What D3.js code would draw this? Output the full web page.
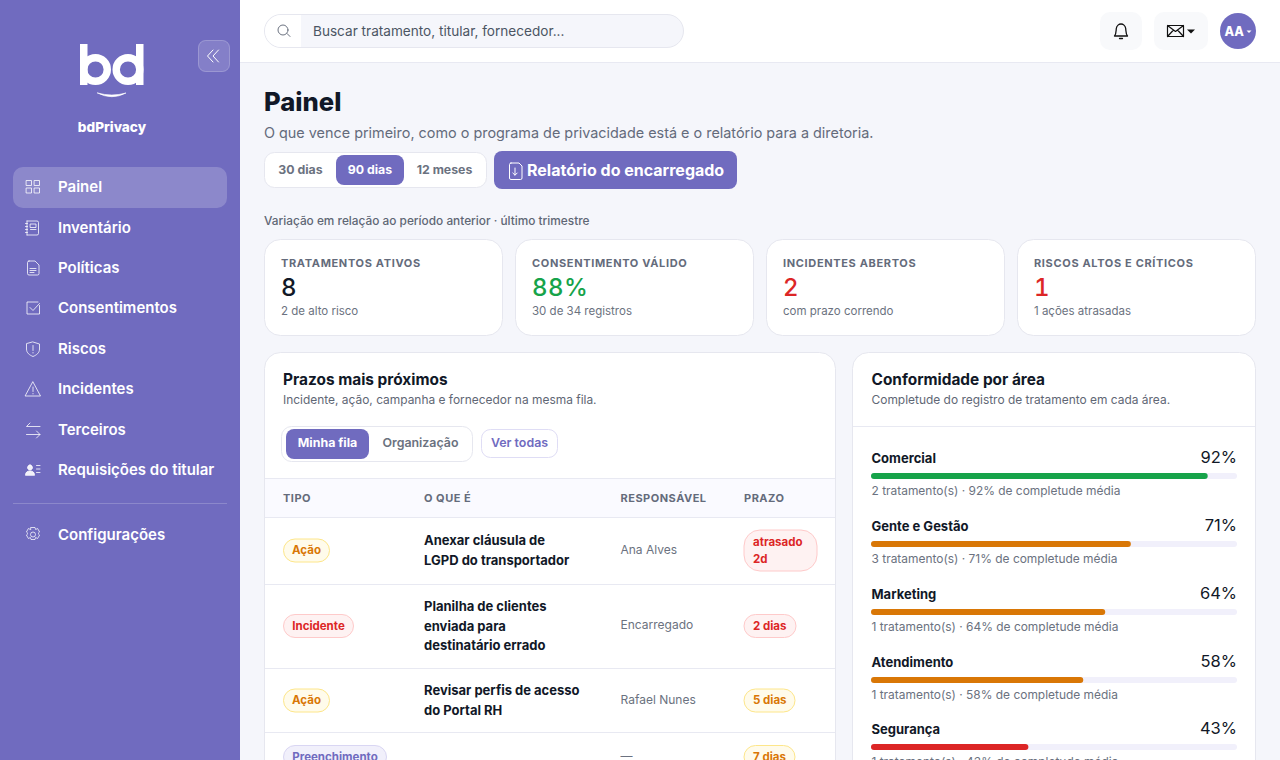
<!DOCTYPE html>
<html lang="pt-BR">
<head>
<meta charset="utf-8">
<title>bdPrivacy - Painel</title>
<script src="https://cdn.jsdelivr.net/npm/d3@7"></script>
<style>
html, body { margin: 0; padding: 0; overflow: hidden; background: #f5f6fb; }
svg { display: block; }
text { font-family: Inter, "Noto Sans", sans-serif; }
</style>
</head>
<body>
<div id="chart"></div>
<script>
// ---- data
var navLabels = ['Painel', 'Inventário', 'Políticas', 'Consentimentos', 'Riscos', 'Incidentes', 'Terceiros', 'Requisições do titular'];
var navY = [187, 228, 268, 308, 349, 389, 430, 470];
var periodLabels = ['30 dias', '90 dias', '12 meses'];

var kpiTitles = ['TRATAMENTOS ATIVOS', 'CONSENTIMENTO VÁLIDO', 'INCIDENTES ABERTOS', 'RISCOS ALTOS E CRÍTICOS'];
var kpiValues = ['8', '88%', '2', '1'];
var kpiNotes = ['2 de alto risco', '30 de 34 registros', 'com prazo correndo', '1 ações atrasadas'];
var kpiColors = ['#111827', '#16a34a', '#dc2626', '#dc2626'];

var tableHeads = ['TIPO', 'O QUE É', 'RESPONSÁVEL', 'PRAZO'];
var rowTypes = ['Ação', 'Incidente', 'Ação', 'Preenchimento'];
var rowTitles = [
    ['Anexar cláusula de', 'LGPD do transportador'],
    ['Planilha de clientes', 'enviada para', 'destinatário errado'],
    ['Revisar perfis de acesso', 'do Portal RH'],
    []
];
var rowOwners = ['Ana Alves', 'Encarregado', 'Rafael Nunes', '—'];
var rowDue = [['atrasado', '2d'], ['2 dias'], ['5 dias'], ['7 dias']];

var areas = ['Comercial', 'Gente e Gestão', 'Marketing', 'Atendimento', 'Segurança'];
var areaCompleteness = [92, 71, 64, 58, 43];
var areaTreatments = [2, 3, 1, 1, 1];

var pill = {
    'Ação': { bg: '#fffbeb', line: '#fde68a', fg: '#d97706' },
    'Incidente': { bg: '#fef2f2', line: '#fecaca', fg: '#dc2626' },
    'Preenchimento': { bg: '#f1f0fb', line: '#d9d6f3', fg: '#706bbf' }
};
var purple = '#706bbf';

var svg = d3.select('#chart').append('svg')
    .attr('width', 1280)
    .attr('height', 760)
    .attr('viewBox', '0 0 1280 760');

function rect(parent, x, y, w, h, r, fill, line) {
    return parent.append('rect')
        .attr('x', x).attr('y', y).attr('width', w).attr('height', h).attr('rx', r)
        .attr('fill', fill).attr('stroke', line || 'none');
}

function label(parent, x, y, str, size, weight, color, anchor, spacing) {
    return parent.append('text')
        .attr('x', x).attr('y', y)
        .attr('font-size', size).attr('font-weight', weight)
        .attr('fill', color)
        .attr('text-anchor', anchor || 'start')
        .attr('letter-spacing', spacing || 0)
        .text(str);
}

function icon(parent, x, y, d, color, width, fill) {
    return parent.append('path')
        .attr('transform', 'translate(' + x + ',' + y + ')')
        .attr('d', d)
        .attr('fill', fill || 'none')
        .attr('stroke', color)
        .attr('stroke-width', width || 1)
        .attr('stroke-linecap', 'round')
        .attr('stroke-linejoin', 'round');
}

// ---- page frame
rect(svg, 0, 0, 1280, 760, 0, '#f5f6fb');
rect(svg, 240, 0, 1040, 62, 0, '#ffffff');
svg.append('line').attr('x1', 240).attr('x2', 1280).attr('y1', 62.5).attr('y2', 62.5).attr('stroke', '#e8e9f2');

// ---- sidebar
var side = svg.append('g');
rect(side, 0, 0, 240, 760, 0, purple);

var logo = side.append('g');
rect(logo, 80, 44, 7.5, 41, 0, '#fff');
rect(logo, 136, 44, 7.5, 41, 0, '#fff');
logo.selectAll('circle').data([95.5, 128]).join('circle')
    .attr('cx', function(d) { return d; })
    .attr('cy', 69.5)
    .attr('r', 11.8)
    .attr('fill', 'none')
    .attr('stroke', '#fff')
    .attr('stroke-width', 7.4);
icon(logo, 0, 0, 'M97.5 93Q112 100.5 126 93Q112 97 97.5 93z', '#fff', 0.6, '#fff');
label(side, 112, 132, 'bdPrivacy', 13.6, 800, '#fff', 'middle');

rect(side, 198.5, 40.5, 31, 31, 7, 'rgba(255,255,255,0.14)', 'rgba(255,255,255,0.25)');
icon(side, 0, 0, 'M213 50L207.5 56L213 62M218.5 50L213 56L218.5 62', '#fff', 1);

rect(side, 13, 167, 214, 41, 10, 'rgba(255,255,255,0.2)');

var navIcons = [
    'M0 .5h5v5h-5zM8 .5h5v5h-5zM0 8h5v5h-5zM8 8h5v5h-5z',
    'M1 0h10a1.5 1.5 0 0 1 1.5 1.5v11a1.5 1.5 0 0 1-1.5 1.5h-10M-.5 2.5h2M-.5 5.5h2M-.5 8.5h2M-.5 11.5h2M1 0v14M4.5 3h5.5v3.5h-5.5zM4.5 8.5h5.5',
    'M2 0h6l4 4v8.5a1.5 1.5 0 0 1-1.5 1.5h-8.5a1.5 1.5 0 0 1-1.5-1.5v-11a1.5 1.5 0 0 1 1.5-1.5zM3 7.5h6M3 9.5h6M3 11.5h4',
    'M12.5 4.5v8.5h-12.5v-12h11M3 6.5l3 3l6.5-7',
    'M6.5 0l6.5 2v5c0 4-3 6-6.5 7.5c-3.5-1.5-6.5-3.5-6.5-7.5v-5zM6.5 3.5v5M6.5 10.5v.5',
    'M7.5 0l7.5 14h-15zM7.5 5v4.5M7.5 11.5v.4',
    'M3.5 0l-3.5 3.5h13.5M10 8l3.5 3.5h-13.5M10 15l3.5-3.5',
    'M4.5 2a2.5 2.5 0 1 0 .01 0zM0 12c0-3 2-4 4.5-4s4.5 1 4.5 4zM11 2.5h3.5M11 6h3.5M11 9.5h3.5',
];
var navIconLeft = [26.5, 26, 27, 27, 26.5, 25.5, 26.5, 25.5];

var navRows = side.selectAll('g.nav').data(navLabels).join('g').attr('class', 'nav');
navRows.each(function(d, i) {
    var row = d3.select(this);
    label(row, 58, navY[i] + 4.8, d, 15, 600, '#fff');
    icon(row, navIconLeft[i], navY[i] - 7, navIcons[i], 'rgba(255,255,255,0.78)', 1, i === 7 ? 'rgba(255,255,255,0.9)' : 'none');
});

side.append('line').attr('x1', 13).attr('x2', 227).attr('y1', 503.5).attr('y2', 503.5).attr('stroke', 'rgba(255,255,255,0.2)');
label(side, 58, 539.8, 'Configurações', 15, 600, '#fff');
side.append('circle').attr('cx', 33).attr('cy', 534.5).attr('r', 2.5).attr('fill', 'none').attr('stroke', 'rgba(255,255,255,0.75)');
icon(side, 33, 534.5, 'M-2 -7h4l.6 2l2-1l2 3.5l-1.6 1.5l1.6 1.5l-2 3.5l-2-1l-.6 2h-4l-.6-2l-2 1l-2-3.5l1.6-1.5l-1.6-1.5l2-3.5l2 1z', 'rgba(255,255,255,0.75)', 1);

// ---- top bar
rect(svg, 264.5, 14.5, 419, 33, 16.5, '#f5f6fb', '#e6e7ef');
svg.append('path').attr('d', 'M301 15H281a16 16 0 0 0 0 32h20z').attr('fill', '#fff');
icon(svg, 0, 0, 'M290 36.5l-3-3M288 30a5 5 0 1 1-10 0a5 5 0 1 1 10 0z', '#6b7280', 1);
label(svg, 313, 36, 'Buscar tratamento, titular, fornecedor...', 13.6, 400, '#4b5563');

rect(svg, 1100, 12, 42, 38, 10, '#f8f9fb');
icon(svg, 0, 0, 'M1114.5 36c1.7-1.7 1.5-4.5 1.8-7.5c.3-3 2.7-4.5 4.7-4.5s4.4 1.5 4.7 4.5c.3 3 .1 5.8 1.8 7.5zM1119.5 38.5h3', '#111', 1.3);
rect(svg, 1154, 12, 54, 38, 10, '#f8f9fb');
icon(svg, 0, 0, 'M1167.5 25.5h16v11h-16zM1167.5 25.5l8 6l8-6M1167.5 36.5l6-6.5M1183.5 36.5l-6-6.5', '#111', 1.2);
svg.append('path').attr('d', 'M1187 29.5h8l-4 4z').attr('fill', '#111');
svg.append('circle').attr('cx', 1238).attr('cy', 31).attr('r', 18).attr('fill', purple);
label(svg, 1224.5, 35.5, 'AA', 12.5, 800, '#fff');
svg.append('path').attr('d', 'M1246.5 30.5h5l-2.5 2.5z').attr('fill', '#fff');

// ---- page heading
label(svg, 264, 111, 'Painel', 25.6, 800, '#111827');
label(svg, 264, 138, 'O que vence primeiro, como o programa de privacidade está e o relatório para a diretoria.', 14.4, 400, '#646b7b');

rect(svg, 264.5, 152.5, 222, 35, 10, '#fff', '#e6e7ef');
rect(svg, 336, 155, 68, 30, 8, purple);
var periodX = [300.5, 370, 444.5];
periodLabels.forEach(function(d, i) {
    label(svg, periodX[i], 174, d, 12.3, 700, i === 1 ? '#fff' : '#6b7280', 'middle');
});
rect(svg, 494, 151, 243, 38, 8, purple);
icon(svg, 0, 0, 'M511 163h8l3 3v12a1.5 1.5 0 0 1-1.5 1.5h-9.5a1.5 1.5 0 0 1-1.5-1.5v-13.5a1.5 1.5 0 0 1 1.5-1.5zM515 168v7M512.8 173l2.2 2.2l2.2-2.2', '#fff', 1);
label(svg, 527, 176, 'Relatório do encarregado', 16, 700, '#fff');

label(svg, 264, 225, 'Variação em relação ao período anterior · último trimestre', 11.85, 500, '#5f6775');

// ---- kpi cards
var kpiX = d3.scalePoint().domain(d3.range(kpiTitles.length)).range([264.5, 1017.5]);
kpiTitles.forEach(function(d, i) {
    var x = kpiX(i);
    rect(svg, x, 239.5, 238, 96, 16, '#fff', '#e6e7ef');
    label(svg, x + 16.5, 267, d, 11, 700, '#646b7b', 'start', 0.65);
    label(svg, x + 16.5, 296, kpiValues[i], 24, 500, kpiColors[i], 'start', 0.5)
        .style('font-variant-numeric', 'tabular-nums');
    label(svg, x + 16.5, 315, kpiNotes[i], 11.5, 400, '#6b7280');
});

// ---- deadlines card
var left = svg.append('g');
rect(left, 264.5, 352.5, 571, 460, 16, '#fff', '#e6e7ef');
label(left, 283, 385, 'Prazos mais próximos', 15.4, 700, '#111827');
label(left, 283, 404, 'Incidente, ação, campanha e fornecedor na mesma fila.', 11.95, 400, '#5f6775');

rect(left, 281.5, 426.5, 191, 35, 10, '#fff', '#e6e7ef');
rect(left, 286, 429, 83, 30, 8, purple);
label(left, 327.5, 447, 'Minha fila', 12.4, 700, '#fff', 'middle');
label(left, 420.5, 447, 'Organização', 12.4, 600, '#6b7280', 'middle');
rect(left, 481.5, 429.5, 76, 28, 9, '#fff', '#dfddf5');
label(left, 519.5, 447, 'Ver todas', 12.4, 600, purple, 'middle');

rect(left, 265, 478, 570, 39.5, 0, '#fafaff');
var colX = [283, 424, 620.5, 744];
tableHeads.forEach(function(d, i) {
    label(left, colX[i], 502, d, 11, 700, '#646b7b', 'start', 0.5);
});

var ruleY = [478.5, 517.5, 584.5, 668.5, 732.5];
left.selectAll('line.rule').data(ruleY).join('line').attr('class', 'rule')
    .attr('x1', 265).attr('x2', 835)
    .attr('y1', function(d) { return d; })
    .attr('y2', function(d) { return d; })
    .attr('stroke', '#e8e9f2');

var rowMid = [550.5, 626, 700.5, 757];
var typeWidth = { 'Ação': 46, 'Incidente': 70, 'Preenchimento': 103 };
var dueWidth = [73, 52, 51, 51];

rowTypes.forEach(function(d, i) {
    var y = rowMid[i], st = pill[d];
    rect(left, 283.5, y - 11.5, typeWidth[d], 23, 11.5, st.bg, st.line);
    label(left, 283.5 + typeWidth[d] / 2, y + 3.8, d, 11.5, 700, st.fg, 'middle');

    var lines = rowTitles[i];
    lines.forEach(function(t, k) {
        label(left, 424, y + 4.5 + (k - (lines.length - 1) / 2) * 19.7, t, 13, 700, '#111827');
    });

    label(left, 620.5, y + 3.3, rowOwners[i], 12, 400, '#6b7280');

    var due = rowDue[i], h = due.length > 1 ? 41 : 23;
    var dueStyle = i < 2 ? pill['Incidente'] : pill['Ação'];
    rect(left, 744, y - h / 2, dueWidth[i], h, due.length > 1 ? 16 : 11.5, dueStyle.bg, dueStyle.line);
    due.forEach(function(t, k) {
        label(left, 753, y + 3.8 + (k - (due.length - 1) / 2) * 17, t, 11.5, 700, dueStyle.fg);
    });
});

// ---- compliance card
var right = svg.append('g');
rect(right, 852.5, 352.5, 403, 460, 16, '#fff', '#e6e7ef');
label(right, 871.5, 385, 'Conformidade por área', 15.4, 700, '#111827');
label(right, 871.5, 404, 'Completude do registro de tratamento em cada área.', 11.95, 400, '#5f6775');
right.append('line').attr('x1', 853).attr('x2', 1255).attr('y1', 426.5).attr('y2', 426.5).attr('stroke', '#e8e9f2');

var xPct = d3.scaleLinear().domain([0, 100]).range([871, 1237]);
var yArea = d3.scalePoint().domain(areas).range([473, 744.4]).round(false);

function barColor(v) {
    if (v >= 80) { return '#16a34a'; }
    if (v >= 50) { return '#d97706'; }
    return '#dc2626';
}

var areaRows = right.selectAll('g.area').data(areas).join('g').attr('class', 'area');
areaRows.each(function(d, i) {
    var row = d3.select(this), y = Math.round(yArea(d)), v = areaCompleteness[i];
    label(row, 871.5, y - 10, d, 13, 700, '#111827');
    label(row, xPct(100), y - 10.4, v + '%', 16.5, 400, '#111827', 'end');
    rect(row, xPct(0), y, xPct(100) - xPct(0), 6, 3, '#f1f0fb');
    rect(row, xPct(0), y, xPct(v) - xPct(0), 6, 3, barColor(v));
    label(row, 871.5, y + 22, areaTreatments[i] + ' tratamento(s) · ' + v + '% de completude média', 11.95, 400, '#6b7280');
});
</script>
</body>
</html>
